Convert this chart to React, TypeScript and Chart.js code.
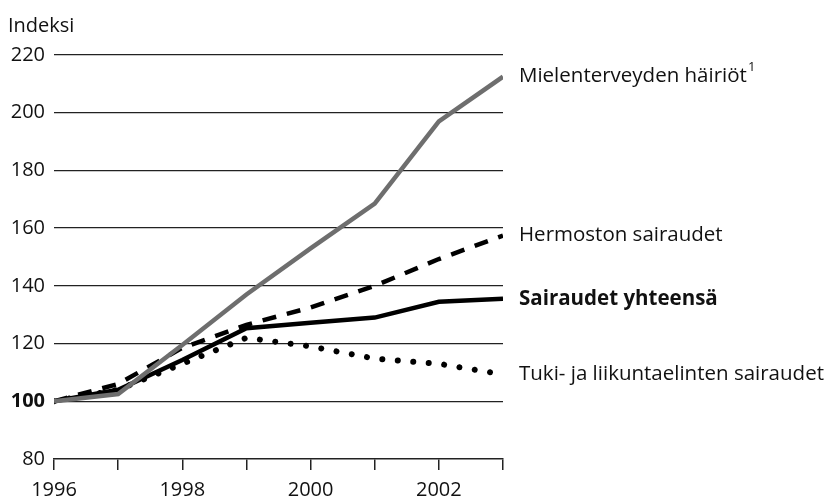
import React, { useEffect, useRef } from "react";
import { Chart, registerables } from "chart.js";

Chart.register(...registerables);

const years = [1996, 1997, 1998, 1999, 2000, 2001, 2002, 2003];
const mielenterveys = [100, 102.5, 119.5, 137, 153, 168.5, 197, 212.5];
const hermosto = [100, 106, 118.5, 126.5, 132.5, 140, 149.3, 157.4];
const yhteensa = [100, 104, 114.3, 125.3, 127.2, 129, 134.5, 135.5];
const tuki = [100, 104, 113, 122, 119, 114.8, 113, 109.3];

const seriesLabels = [
  "Mielenterveyden häiriöt",
  "Hermoston sairaudet",
  "Tuki- ja liikuntaelinten sairaudet",
  "Sairaudet yhteensä",
];
const yTitle = "Indeksi";
const FONT = "'Open Sans', sans-serif";

export default function App() {
  const ref = useRef<HTMLCanvasElement | null>(null);

  useEffect(() => {
    if (!ref.current) return;

    const endLabels = {
      id: "endLabels",
      afterDatasetsDraw(chart: any) {
        const ctx = chart.ctx;
        const area = chart.chartArea;
        ctx.save();
        ctx.fillStyle = "#111";
        ctx.textBaseline = "middle";
        ctx.textAlign = "left";
        chart.data.datasets.forEach((ds: any, i: number) => {
          const meta = chart.getDatasetMeta(i);
          const last = meta.data[meta.data.length - 1];
          const x = area.right + 16;
          const y = last.y;
          ctx.font = (ds.bold ? "bold " : "") + "20.5px " + FONT;
          ctx.fillText(ds.label, x, y);
          if (ds.sup) {
            const w = ctx.measureText(ds.label).width;
            ctx.font = "13px " + FONT;
            ctx.fillText(ds.sup, x + w + 1, y - 9);
          }
        });
        ctx.font = "20px " + FONT;
        ctx.textBaseline = "middle";
        ctx.fillText(yTitle, 8, 26);
        ctx.restore();
      },
    };

    const chart = new Chart(ref.current, {
      type: "line",
      data: {
        labels: years,
        datasets: [
          {
            label: seriesLabels[0],
            sup: "1",
            data: years.map((x, i) => ({ x, y: mielenterveys[i] })),
            borderColor: "#6e6e6e",
            borderWidth: 4.5,
          } as any,
          {
            label: seriesLabels[1],
            data: years.map((x, i) => ({ x, y: hermosto[i] })),
            borderColor: "#000",
            borderWidth: 4.5,
            borderDash: [14, 11],
          },
          {
            label: seriesLabels[2],
            data: years.map((x, i) => ({ x, y: tuki[i] })),
            borderColor: "#000",
            borderWidth: 6,
            borderDash: [0.01, 15.5],
            borderCapStyle: "round",
          },
          {
            label: seriesLabels[3],
            bold: true,
            data: years.map((x, i) => ({ x, y: yhteensa[i] })),
            borderColor: "#000",
            borderWidth: 4.5,
          } as any,
        ],
      },
      options: {
        animation: false,
        responsive: false,
        events: [],
        layout: { padding: { top: 55, right: 328, left: 0, bottom: 0 } },
        elements: { point: { radius: 0 }, line: { tension: 0 } },
        plugins: { legend: { display: false }, tooltip: { enabled: false } },
        scales: {
          x: {
            type: "linear",
            min: 1996,
            max: 2003,
            ticks: {
              stepSize: 1,
              autoSkip: false,
              maxRotation: 0,
              padding: 8,
              color: "#111",
              font: { family: FONT, size: 20 },
              callback: (v: any) => (Number(v) % 2 === 0 ? String(v) : ""),
            },
            grid: {
              drawOnChartArea: false,
              drawTicks: true,
              tickLength: 11,
              color: "#222",
              lineWidth: 1.5,
            },
            border: { display: true, color: "#222", width: 1.5 },
            afterFit: (s: any) => {
              s.height = 43;
            },
          },
          y: {
            min: 80,
            max: 220,
            ticks: {
              stepSize: 20,
              padding: 9,
              color: "#111",
              font: (c: any) => ({
                family: FONT,
                size: 20,
                weight: c.tick && c.tick.value === 100 ? "bold" : "normal",
              }),
            },
            grid: {
              drawTicks: false,
              color: (c: any) => (c.tick && c.tick.value === 80 ? "rgba(0,0,0,0)" : "#222"),
              lineWidth: 1.3,
            },
            border: { display: false },
            afterFit: (s: any) => {
              s.width = 54;
            },
          },
        },
      } as any,
      plugins: [endLabels],
    });
    return () => chart.destroy();
  }, []);

  return (
    <div style={{ position: "absolute", left: 0, top: 0, width: 831, height: 502, background: "#fff" }}>
      <canvas ref={ref} width={831} height={502} />
    </div>
  );
}
